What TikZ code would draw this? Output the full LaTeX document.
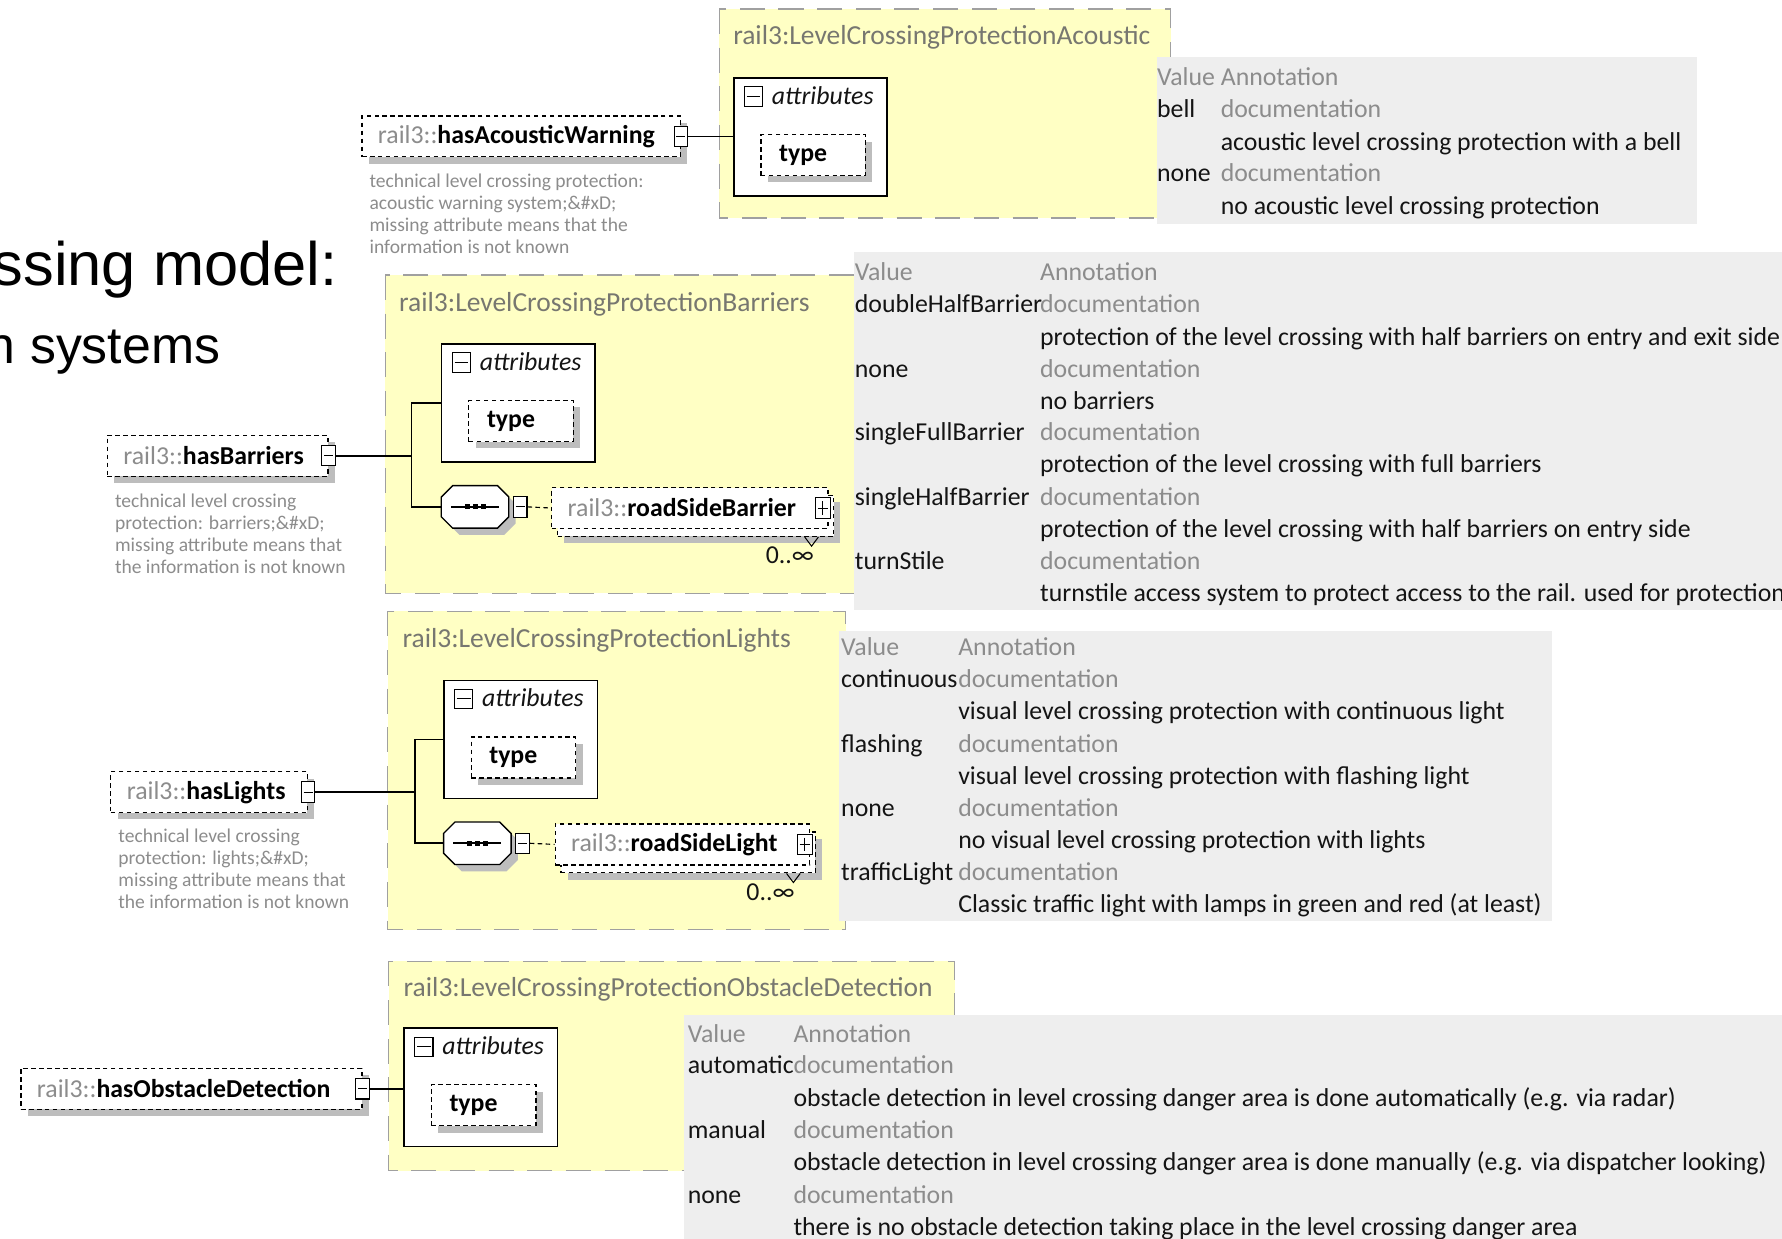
\documentclass[tikz,border=0pt]{standalone}
\usepackage{fontspec}
\setmainfont{Carlito}
\newfontfamily\arialf{Liberation Sans}
\usetikzlibrary{shadows}
\definecolor{ylw}{HTML}{FFFFC4}
\definecolor{ybd}{HTML}{A0A0A0}
\definecolor{tblc}{HTML}{EEEEEE}
\definecolor{gtx}{HTML}{8C8C8C}
\definecolor{ttl}{HTML}{777770}
\definecolor{shd}{HTML}{BDBDBD}
\definecolor{txk}{HTML}{141414}
\newcommand\fT{\fontsize{22.7}{26}\selectfont}
\newcommand\fY{\fontsize{24.2}{26}\selectfont}
\newcommand\fD{\fontsize{17.2}{19.4}\selectfont}
\newcommand\octo[1]{%
  \fill[shd] ([shift={(16,6)}]#1.north west) -- ([shift={(-4,6)}]#1.north east) -- ([shift={(6,16)}]#1.north east)
    -- ([shift={(6,-4)}]#1.south east) -- ([shift={(-4,6)}]#1.south east) -- ([shift={(16,6)}]#1.south west)
    -- ([shift={(6,-4)}]#1.south west) -- ([shift={(6,16)}]#1.north west) -- cycle;
  \filldraw[fill=white, draw=black, line width=1.2pt] ([shift={(10,0)}]#1.north west) -- ([shift={(-10,0)}]#1.north east) -- ([shift={(0,10)}]#1.north east)
    -- ([shift={(0,-10)}]#1.south east) -- ([shift={(-10,0)}]#1.south east) -- ([shift={(10,0)}]#1.south west)
    -- ([shift={(0,-10)}]#1.south west) -- ([shift={(0,10)}]#1.north west) -- cycle;
  \draw[line width=1.4pt] ([xshift=-21pt]#1.center) -- ([xshift=21pt]#1.center);
  \fill ([xshift=-7pt]#1.center) +(-2.2,-2.2) rectangle +(2.2,2.2);
  \fill (#1.center) +(-2.2,-2.2) rectangle +(2.2,2.2);
  \fill ([xshift=7pt]#1.center) +(-2.2,-2.2) rectangle +(2.2,2.2);}
\begin{document}
\begin{tikzpicture}[x=1pt,y=-1pt,
 ybox/.style={draw=ybd, fill=ylw, line width=1.3pt, dash pattern=on 22pt off 12pt},
 tt/.style={anchor=base west, inner sep=0pt, font=\fT, text=txk},
 tg/.style={tt, text=gtx},
 ytitle/.style={anchor=base west, inner sep=0pt, font=\fY, text=ttl},
 doc/.style={anchor=north west, inner sep=0pt, font=\fD, text=gtx, align=left},
 elemns/.style={draw=black, line width=1.1pt, dash pattern=on 4pt off 3pt, fill=white, minimum height=36pt, inner ysep=0pt, inner xsep=14pt, align=left, font=\fT, anchor=west},
 elem/.style={elemns, drop shadow={shadow xshift=6pt, shadow yshift=-6pt, fill=shd, opacity=1}},
 attb/.style={draw=black, line width=1.3pt, fill=white, minimum width=135pt, minimum height=104pt, anchor=north west, inner sep=0pt},
 lab/.style={anchor=base west, inner sep=0pt, font=\fT\itshape, text=txk},
 typ/.style={elem, anchor=north west, text width=60pt, inner xsep=16pt},
 icm/.style={draw=black, fill=white, line width=0.9pt, minimum width=12pt, minimum height=18pt, inner sep=0pt,
   path picture={\draw[line width=0.9pt] ([xshift=2pt]path picture bounding box.west) -- ([xshift=-2pt]path picture bounding box.east);}},
 icp/.style={draw=black, fill=white, line width=0.9pt, minimum width=13pt, minimum height=18pt, inner sep=0pt,
   path picture={\draw[line width=0.9pt] ([xshift=2pt]path picture bounding box.west) -- ([xshift=-2pt]path picture bounding box.east);
   \draw[line width=0.9pt] ([yshift=-3pt]path picture bounding box.north) -- ([yshift=3pt]path picture bounding box.south);}},
 ica/.style={icm, minimum width=16pt, minimum height=17pt},
 seqn/.style={minimum width=59pt, minimum height=37pt, inner sep=0pt},
 conn/.style={draw=black, line width=1.4pt},
 dconn/.style={draw=black, line width=1pt, dash pattern=on 4pt off 3pt},
 mult/.style={anchor=base, inner sep=0pt, font=\fT, text=txk}
]
\useasboundingbox (0,0) rectangle (1568,1090);
% slide title fragments
\node[anchor=base east, inner sep=0pt, font=\arialf\fontsize{54}{60}\selectfont] (st1) at (297,251) {ssing model:};
\node[anchor=base east, inner sep=0pt, font=\arialf\fontsize{45.6}{50}\selectfont] (st2) at (194,320) {n systems};
% yellow type boxes
\draw[ybox] (633,8) rectangle (1030,192);
\draw[ybox] (339,242) rectangle (758,522);
\draw[ybox] (341,538) rectangle (744,818);
\draw[ybox] (342,846) rectangle (840,1030);
\node[ytitle] (y1) at (645,39) {rail3:LevelCrossingProtectionAcoustic};
\node[ytitle] (y2) at (351,274) {rail3:LevelCrossingProtectionBarriers};
\node[ytitle] (y3) at (354,570) {rail3:LevelCrossingProtectionLights};
\node[ytitle] (y4) at (355,877) {rail3:LevelCrossingProtectionObstacleDetection};
% value tables
\fill[tblc] (1018,50) rectangle (1493,197);
\fill[tblc] (751,222) rectangle (1568,537);
\fill[tblc] (738,555) rectangle (1366,810);
\fill[tblc] (602,893) rectangle (1568,1090);
% table 1
\node[tg] (t1a) at (1018,75) {Value};
\node[tg] (t1b) at (1074,75) {Annotation};
\node[tt] (t1c) at (1018,103) {bell};
\node[tg] (t1d) at (1074,103) {documentation};
\node[tt] (t1e) at (1074,132) {acoustic level crossing protection with a bell};
\node[tt] (t1f) at (1018,160) {none};
\node[tg] (t1g) at (1074,160) {documentation};
\node[tt] (t1h) at (1074,189) {no acoustic level crossing protection};
% table 2
\node[tg] (t2a) at (752,247) {Value};
\node[tg] (t2b) at (915,247) {Annotation};
\node[tt] (t2c) at (752,275) {doubleHalfBarrier};
\node[tg] (t2d) at (915,275) {documentation};
\node[tt] (t2e) at (915,304) {protection of the level crossing with half barriers on entry and exit side};
\node[tt] (t2f) at (752,332) {none};
\node[tg] (t2g) at (915,332) {documentation};
\node[tt] (t2h) at (915,360) {no barriers};
\node[tt] (t2i) at (752,388) {singleFullBarrier};
\node[tg] (t2j) at (915,388) {documentation};
\node[tt] (t2k) at (915,416) {protection of the level crossing with full barriers};
\node[tt] (t2l) at (752,445) {singleHalfBarrier};
\node[tg] (t2m) at (915,445) {documentation};
\node[tt] (t2n) at (915,473) {protection of the level crossing with half barriers on entry side};
\node[tt] (t2o) at (752,501) {turnStile};
\node[tg] (t2p) at (915,501) {documentation};
\node[tt] (t2q) at (915,529) {turnstile access system to protect access to the rail. used for protection};
% table 3
\node[tg] (t3a) at (740,577) {Value};
\node[tg] (t3b) at (843,577) {Annotation};
\node[tt] (t3c) at (740,605) {continuous};
\node[tg] (t3d) at (843,605) {documentation};
\node[tt] (t3e) at (843,633) {visual level crossing protection with continuous light};
\node[tt] (t3f) at (740,662) {flashing};
\node[tg] (t3g) at (843,662) {documentation};
\node[tt] (t3h) at (843,690) {visual level crossing protection with flashing light};
\node[tt] (t3i) at (740,718) {none};
\node[tg] (t3j) at (843,718) {documentation};
\node[tt] (t3k) at (843,747) {no visual level crossing protection with lights};
\node[tt] (t3l) at (740,775) {trafficLight};
\node[tg] (t3m) at (843,775) {documentation};
\node[tt] (t3n) at (843,803) {Classic traffic light with lamps in green and red (at least)};
% table 4
\node[tg] (t4a) at (605,917) {Value};
\node[tg] (t4b) at (698,917) {Annotation};
\node[tt] (t4c) at (605,945) {automatic};
\node[tg] (t4d) at (698,945) {documentation};
\node[tt] (t4e) at (698,974) {obstacle detection in level crossing danger area is done automatically (e.g. via radar)};
\node[tt] (t4f) at (605,1002) {manual};
\node[tg] (t4g) at (698,1002) {documentation};
\node[tt] (t4h) at (698,1030) {obstacle detection in level crossing danger area is done manually (e.g. via dispatcher looking)};
\node[tt] (t4i) at (605,1059) {none};
\node[tg] (t4j) at (698,1059) {documentation};
\node[tt] (t4k) at (698,1087) {there is no obstacle detection taking place in the level crossing danger area};

% ===== Acoustic =====
\node[elem, text width=252pt] (haw) at (318,120) {\textcolor{gtx}{rail3::}\textbf{hasAcousticWarning}};
\node[icm] (hawi) at (haw.east) {};
\node[doc] (hawd) at (325,153) {technical level crossing protection:\\acoustic warning system;\&\#xD;\\missing attribute means that the\\information is not known};
\node[attb] (aca) at (645,68) {};
\node[ica] (acai) at ([shift={(18,17)}]aca.north west) {};
\node[lab] (acal) at ([shift={(34,24)}]aca.north west) {attributes};
\node[typ] (act) at ([shift={(24,50)}]aca.north west) {\textbf{type}};
\draw[conn] (hawi.east) -- (hawi.east -| aca.west);

% ===== Barriers =====
\node[elem, text width=166pt] (hb) at (94,401) {\textcolor{gtx}{rail3::}\textbf{hasBarriers}};
\node[icm] (hbi) at (hb.east) {};
\node[doc] (hbd) at (101,434) {technical level crossing\\protection: barriers;\&\#xD;\\missing attribute means that\\the information is not known};
\node[attb] (ba) at (388,302) {};
\node[ica] (bai) at ([shift={(18,17)}]ba.north west) {};
\node[lab] (bal) at ([shift={(34,24)}]ba.north west) {attributes};
\node[typ] (bat) at ([shift={(24,50)}]ba.north west) {\textbf{type}};
\node[seqn] (bs) at (418,446) {};
\octo{bs}
\node[icm] (bsi) at ([xshift=10pt]bs.east) {};
\node[elem, text width=215pt] (rsbB) at (490,454) {\phantom{x}};
\node[elemns, text width=215pt] (rsb) at (485,447) {\textcolor{gtx}{rail3::}\textbf{roadSideBarrier}};
\node[icp] (rsbi) at ([xshift=-5pt]rsb.east) {};
\draw[line width=0.9pt] ([xshift=-26pt]rsbB.south east) -- ++(6,8) -- ++(6,-8);
\node[mult] (rsbm) at (695,496) {0..\char"221E};
\coordinate (bj) at (362,401);
\draw[conn] (hbi.east) -- (bj);
\draw[conn] (ba.west) -| (bj) |- (bs.west);
\draw[dconn] (bsi.east) -- (rsb.west);

% ===== Lights =====
\node[elem, text width=145pt] (hl) at (97,697) {\textcolor{gtx}{rail3::}\textbf{hasLights}};
\node[icm] (hli) at (hl.east) {};
\node[doc] (hld) at (104,729) {technical level crossing\\protection: lights;\&\#xD;\\missing attribute means that\\the information is not known};
\node[attb] (la) at (390,598) {};
\node[ica] (lai) at ([shift={(18,17)}]la.north west) {};
\node[lab] (lal) at ([shift={(34,24)}]la.north west) {attributes};
\node[typ] (lat) at ([shift={(24,50)}]la.north west) {\textbf{type}};
\node[seqn] (ls) at (420,742) {};
\octo{ls}
\node[icm] (lsi) at ([xshift=10pt]ls.east) {};
\node[elem, text width=196pt] (rslB) at (493,750) {\phantom{x}};
\node[elemns, text width=196pt] (rsl) at (488,743) {\textcolor{gtx}{rail3::}\textbf{roadSideLight}};
\node[icp] (rsli) at ([xshift=-5pt]rsl.east) {};
\draw[line width=0.9pt] ([xshift=-26pt]rslB.south east) -- ++(6,8) -- ++(6,-8);
\node[mult] (rslm) at (678,792) {0..\char"221E};
\coordinate (lj) at (365,697);
\draw[conn] (hli.east) -- (lj);
\draw[conn] (la.west) -| (lj) |- (ls.west);
\draw[dconn] (lsi.east) -- (rsl.west);

% ===== Obstacle detection =====
\node[elem, text width=272pt] (ho) at (18,958) {\textcolor{gtx}{rail3::}\textbf{hasObstacleDetection}};
\node[icm] (hoi) at (ho.east) {};
\node[attb] (oa) at (355,904) {};
\node[ica] (oai) at ([shift={(18,17)}]oa.north west) {};
\node[lab] (oal) at ([shift={(34,24)}]oa.north west) {attributes};
\node[typ] (oat) at ([shift={(24,50)}]oa.north west) {\textbf{type}};
\draw[conn] (hoi.east) -- (hoi.east -| oa.west);
\end{tikzpicture}
\end{document}
